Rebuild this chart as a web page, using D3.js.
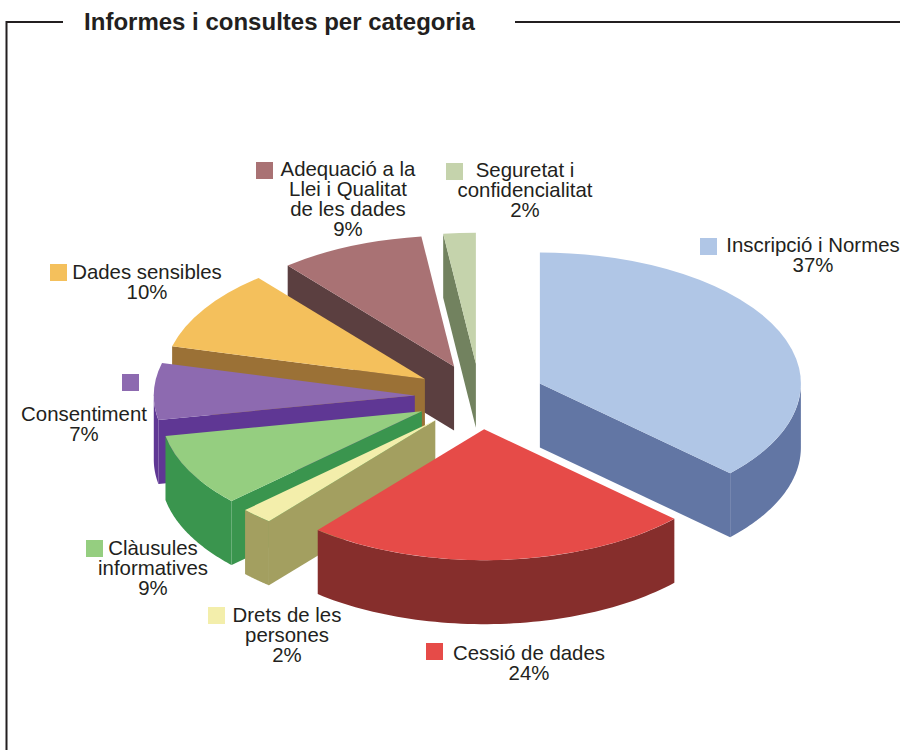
<!DOCTYPE html>
<html>
<head>
<meta charset="utf-8">
<script src="https://cdnjs.cloudflare.com/ajax/libs/d3/7.8.5/d3.min.js"></script>
<style>
  html, body { margin: 0; padding: 0; background: #fff; overflow: hidden; }
  text { font-family: "Liberation Sans", Arial, sans-serif; fill: #231f20; }
</style>
</head>
<body>
<svg id="svg" width="900" height="750"></svg>
<script>
const title = "Informes i consultes per categoria";
const categories = ["Inscripció i Normes", "Cessió de dades", "Drets de les persones", "Clàusules informatives",
    "Consentiment", "Dades sensibles", "Adequació a la Llei i Qualitat de les dades", "Seguretat i confidencialitat"];
const values = [37, 24, 2, 9, 7, 10, 9, 2];
const topColors = ["#b0c6e6", "#e64b48", "#f3eeab", "#95ce80", "#8d6ab0", "#f4c05c", "#a97274", "#c5d3ac"];
const sideColors = ["#6276a4", "#862e2c", "#a39f60", "#3a954e", "#5f3794", "#9b7136", "#5b3f40", "#72825f"];

// label layout, same order as categories
const labelLines = [
    ["Inscripció i Normes", "37%"],
    ["Cessió de dades", "24%"],
    ["Drets de les", "persones", "2%"],
    ["Clàusules", "informatives", "9%"],
    ["Consentiment", "7%"],
    ["Dades sensibles", "10%"],
    ["Adequació a la", "Llei i Qualitat", "de les dades", "9%"],
    ["Seguretat i", "confidencialitat", "2%"]
];
const labelX = [813, 529, 287, 153, 84, 147, 348, 525];
const labelY = [252, 660, 622, 555, 421, 279, 176, 177];
const swatchX = [700, 426, 208, 86, 122, 50, 256, 446];
const swatchY = [238, 643, 607, 540, 374, 264, 162, 163];

const cx = 480, cy = 396.5, rx = 261, ry = 131, depth = 64, explode = 0.25;

const svg = d3.select("#svg");

// frame around the chart
const frame = d3.path();
frame.moveTo(63, 22); frame.lineTo(6.5, 22); frame.lineTo(6.5, 750);
frame.moveTo(515, 22); frame.lineTo(900, 22);
svg.append("path").attr("d", frame.toString())
    .attr("fill", "none").attr("stroke", "#231f20").attr("stroke-width", 2);

svg.append("text").attr("x", 279.5).attr("y", 30)
    .attr("text-anchor", "middle")
    .attr("font-size", 24).attr("font-weight", "bold")
    .text(title);

const pie = d3.pie().sort(null)(values);
const arc = d3.arc().innerRadius(0).outerRadius(rx);
const line = d3.line();

// north based angle -> point on the ellipse
const px = a => rx * Math.sin(a);
const py = a => -ry * Math.cos(a);

const slices = pie.map((d, i) => {
    const mid = (d.startAngle + d.endAngle) / 2;
    return Object.assign(d, {
        i: i,
        ox: cx + px(mid) * explode,
        oy: cy + py(mid) * explode
    });
});

function outerWall(d) {
    const a0 = Math.max(d.startAngle, Math.PI / 2);
    const a1 = Math.min(d.endAngle, Math.PI * 1.5);
    if (a1 <= a0) return null;
    const pts = d3.range(0, 61).map(k => a0 + (a1 - a0) * k / 60);
    const top = pts.map(a => [px(a), py(a)]);
    const bottom = pts.slice().reverse().map(a => [px(a), py(a) + depth]);
    return line(top.concat(bottom)) + "Z";
}

function radialWall(a) {
    return line([[0, 0], [px(a), py(a)], [px(a), py(a) + depth], [0, depth]]) + "Z";
}

// paint back to front
const order = slices.slice().sort((a, b) => a.oy - b.oy);

const g = svg.selectAll("g.slice")
    .data(order)
    .join("g")
    .attr("class", "slice")
    .attr("transform", d => `translate(${d.ox},${d.oy})`);

g.each(function(d) {
    const el = d3.select(this);
    const side = sideColors[d.i];
    // only the wall that faces the viewer is seen
    if (d.startAngle > Math.PI) {
        el.append("path").attr("d", radialWall(d.startAngle)).attr("fill", side);
    }
    if (d.endAngle < Math.PI) {
        el.append("path").attr("d", radialWall(d.endAngle)).attr("fill", side);
    }
    const wall = outerWall(d);
    if (wall) el.append("path").attr("d", wall).attr("fill", side);
    el.append("path")
        .attr("d", arc(d))
        .attr("transform", `scale(1,${ry / rx})`)
        .attr("fill", topColors[d.i]);
});

// labels
svg.selectAll("rect.swatch")
    .data(categories)
    .join("rect")
    .attr("class", "swatch")
    .attr("x", (d, i) => swatchX[i])
    .attr("y", (d, i) => swatchY[i])
    .attr("width", 17)
    .attr("height", 17)
    .attr("fill", (d, i) => topColors[i]);

const labels = svg.selectAll("text.label")
    .data(categories)
    .join("text")
    .attr("class", "label")
    .attr("font-size", 20.4)
    .attr("text-anchor", "middle")
    .attr("y", (d, i) => labelY[i]);

labels.selectAll("tspan")
    .data((d, i) => labelLines[i].map(t => ({ t: t, i: i })))
    .join("tspan")
    .attr("x", d => labelX[d.i])
    .attr("dy", (d, k) => k ? 20 : 0)
    .text(d => d.t);
</script>
</body>
</html>
